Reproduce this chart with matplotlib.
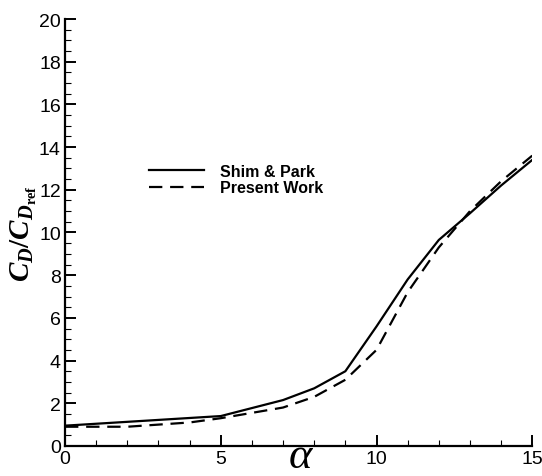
import numpy as np
import matplotlib
matplotlib.use("Agg")
import matplotlib.pyplot as plt
from matplotlib.ticker import MultipleLocator

# bold italic serif for the y label math (Times-like, as in the reference)
plt.rcParams["mathtext.fontset"] = "custom"
plt.rcParams["mathtext.it"] = "Liberation Serif:italic:bold"
plt.rcParams["mathtext.rm"] = "Liberation Serif:bold"
plt.rcParams["mathtext.bf"] = "Liberation Serif:bold"

# --- data ---
alpha = [0, 5, 7, 8, 9, 10, 11, 12, 13, 14, 15]
shim_park = [0.95, 1.4, 2.15, 2.7, 3.5, 5.6, 7.8, 9.65, 10.9, 12.2, 13.4]

alpha_pw = [0, 2, 4, 5, 7, 8, 9, 10, 11, 12, 13, 14, 15]
present_work = [0.9, 0.9, 1.1, 1.3, 1.8, 2.3, 3.1, 4.5, 7.2, 9.3, 11.0, 12.4, 13.6]

labels = ["Shim & Park", "Present Work"]

fig = plt.figure(figsize=(5.42, 4.77), dpi=100)
ax = fig.add_axes([0.12, 0.063, 0.862, 0.895])

ax.plot(alpha, shim_park, "-", color="black", lw=1.6, label=labels[0])
ax.plot(alpha_pw, present_work, "--", color="black", lw=1.6,
        dashes=(6, 3.5), label=labels[1])

ax.set_xlim(0, 15)
ax.set_ylim(0, 20)
ax.xaxis.set_major_locator(MultipleLocator(5))
ax.xaxis.set_minor_locator(MultipleLocator(1))
ax.yaxis.set_major_locator(MultipleLocator(2))
ax.yaxis.set_minor_locator(MultipleLocator(0.5))

for s in ("top", "right"):
    ax.spines[s].set_visible(False)
for s in ("left", "bottom"):
    ax.spines[s].set_linewidth(1.6)

ax.tick_params(which="major", direction="in", length=8, width=1.4,
               labelsize=14, pad=3)
ax.tick_params(which="minor", direction="in", length=4, width=0.8)
for lab in ax.get_xticklabels() + ax.get_yticklabels():
    lab.set_family("Liberation Sans")

ax.set_ylabel(r"$C_D/C_{D_{\mathbf{ref}}}$", fontsize=21, labelpad=0)

# alpha axis label sits at the very bottom edge of the figure
fig.text(0.555, 0.0, "α", fontsize=32, family="Liberation Serif",
         style="italic", ha="center", va="bottom")

ax.legend(loc="upper left", bbox_to_anchor=(0.15, 0.695), frameon=False,
          handlelength=3.4, handletextpad=1.0, labelspacing=0.1,
          prop={"family": "Liberation Sans", "weight": "bold", "size": 11.5})

fig.savefig("out.png", dpi=100)
